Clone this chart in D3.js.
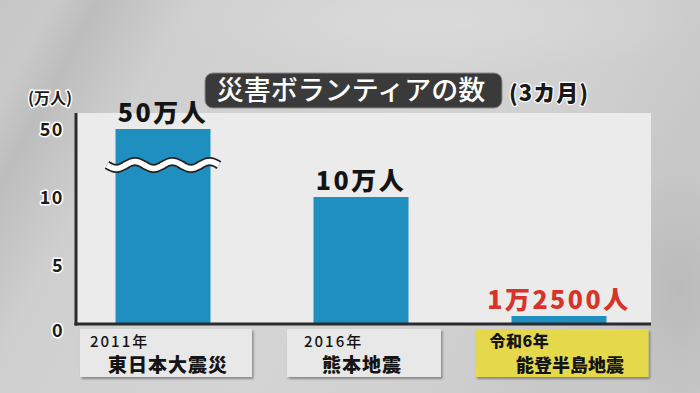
<!DOCTYPE html>
<html><head><meta charset="utf-8">
<script src="https://cdn.jsdelivr.net/npm/d3@7"></script>
<style>
html,body{margin:0;padding:0;background:#cdcdcd;}
svg{display:block;font-family:"Noto Sans CJK JP","Noto Sans",sans-serif;}
</style></head>
<body>
<svg id="chart" width="700" height="393"></svg>
<script>
// ---- data ----
const categories = ["東日本大震災", "熊本地震", "能登半島地震"];
const years = ["2011年", "2016年", "令和6年"];
const values = [50, 10, 1.25];           // 万人
const valueLabels = ["50万人", "10万人", "1万2500人"];
const tickValues = [0, 5, 10, 50];
const title = "災害ボランティアの数";
const subtitle = "(3カ月)";
const unitLabel = "(万人)";

// ---- layout ----
const W = 700, H = 393;
const panel = {x0: 76, x1: 651, y0: 113, y1: 324};
const svg = d3.select("#chart");
const defs = svg.append("defs");

// background
const bg = defs.append("linearGradient").attr("id", "bg").attr("x1", 0).attr("x2", 1).attr("y1", 0).attr("y2", 0.3);
[[0, "#c6c6c6"], [0.07, "#c9c9c9"], [0.13, "#bdbdbd"], [0.25, "#cfcfcf"], [0.6, "#d4d4d4"], [0.85, "#cfcfcf"], [1, "#c7c7c7"]]
  .forEach(([o, c]) => bg.append("stop").attr("offset", o).attr("stop-color", c));
svg.append("rect").attr("width", W).attr("height", H).attr("fill", "url(#bg)");
const rg = defs.append("radialGradient").attr("id", "glow");
rg.append("stop").attr("offset", 0).attr("stop-color", "#dcdcdc").attr("stop-opacity", 0.8);
rg.append("stop").attr("offset", 1).attr("stop-color", "#dcdcdc").attr("stop-opacity", 0);
svg.append("ellipse").attr("cx", 430).attr("cy", 20).attr("rx", 260).attr("ry", 60).attr("fill", "url(#glow)");
const rd = defs.append("radialGradient").attr("id", "dark");
rd.append("stop").attr("offset", 0).attr("stop-color", "#b4b4b4").attr("stop-opacity", 0.7);
rd.append("stop").attr("offset", 1).attr("stop-color", "#b4b4b4").attr("stop-opacity", 0);
svg.append("ellipse").attr("cx", 680).attr("cy", 290).attr("rx", 70).attr("ry", 120).attr("fill", "url(#dark)");

// shadow filter
const f = defs.append("filter").attr("id", "sh").attr("x", "-10%").attr("y", "-10%").attr("width", "130%").attr("height", "140%");
f.append("feDropShadow").attr("dx", 1.5).attr("dy", 2).attr("stdDeviation", 1.2).attr("flood-color", "#000").attr("flood-opacity", 0.35);

// plot panel
svg.append("rect").attr("x", panel.x0).attr("y", panel.y0)
  .attr("width", panel.x1 - panel.x0).attr("height", panel.y1 - panel.y0)
  .attr("fill", "#ebebeb");

// scales
const x = d3.scalePoint().domain(categories).range([64, 658]).padding(0.5);
const y = d3.scaleLinear().domain([0, 10, 50]).range([333, 197, 129]);
const barW = 95;

// bars
svg.append("g").selectAll("rect").data(categories).join("rect")
  .attr("x", d => x(d) - barW / 2)
  .attr("width", barW)
  .attr("y", (d, i) => y(values[i]))
  .attr("height", (d, i) => panel.y1 - y(values[i]))
  .attr("fill", "#1f8fc0");

// wave break on the first bar
const wy = 165, wx0 = x(categories[0]) - 56, wx1 = x(categories[0]) + 56;
const wavePts = d3.range(0, 61).map(k => {
  const t = k / 60;
  return [wx0 + t * (wx1 - wx0), wy + 3.5 * Math.sin(t * Math.PI * 6)];
});
const waveLine = d3.line().curve(d3.curveBasis);
svg.append("path").attr("d", waveLine(wavePts)).attr("fill", "none")
  .attr("stroke", "#222").attr("stroke-width", 9);
svg.append("path").attr("d", waveLine(wavePts)).attr("fill", "none")
  .attr("stroke", "#fff").attr("stroke-width", 5.5);

// axes lines
svg.append("line").attr("x1", panel.x0).attr("x2", panel.x0).attr("y1", panel.y0).attr("y2", panel.y1 + 1.5)
  .attr("stroke", "#2b2b2b").attr("stroke-width", 3);
svg.append("line").attr("x1", panel.x0 - 1.5).attr("x2", panel.x1).attr("y1", panel.y1).attr("y2", panel.y1)
  .attr("stroke", "#2b2b2b").attr("stroke-width", 3);

// y axis tick labels
const yAxis = svg.append("g").attr("transform", "translate(64,0)")
  .call(d3.axisLeft(y).tickValues(tickValues).tickSize(0).tickPadding(0).tickFormat(d3.format("d")));
yAxis.select(".domain").remove();
yAxis.selectAll("text")
  .attr("font-family", "'Noto Sans CJK JP', sans-serif")
  .attr("font-size", 18).attr("font-weight", 700).attr("fill", "#1a1a1a")
  .attr("stroke", "#fff").attr("stroke-width", 3).attr("paint-order", "stroke")
  .attr("stroke-linejoin", "round").attr("letter-spacing", 1.5)
  .attr("dy", "0.36em");
yAxis.selectAll("text").filter(d => d === 0).attr("dy", "0.2em");

// unit label
svg.append("text").attr("x", 50).attr("y", 104).attr("text-anchor", "middle")
  .attr("font-size", 16).attr("font-weight", 700).attr("fill", "#1a1a1a")
  .attr("stroke", "#fff").attr("stroke-width", 3).attr("paint-order", "stroke").attr("stroke-linejoin", "round")
  .text(unitLabel);

// value labels
svg.append("g").selectAll("text").data(categories).join("text")
  .attr("x", d => x(d))
  .attr("y", (d, i) => y(values[i]) - 7)
  .attr("text-anchor", "middle")
  .attr("font-size", 25).attr("font-weight", 900)
  .attr("letter-spacing", 2.5)
  .attr("fill", (d, i) => i === 2 ? "#d8332a" : "#141414")
  .text((d, i) => valueLabels[i]);

// title box
svg.append("rect").attr("x", 205).attr("y", 73).attr("width", 297).attr("height", 35).attr("rx", 8)
  .attr("fill", "#3a3a3a").attr("stroke", "#8a8a8a").attr("stroke-width", 1);
svg.append("text").attr("x", 351).attr("y", 100).attr("text-anchor", "middle")
  .attr("font-size", 27).attr("font-weight", 500).attr("fill", "#fff")
  .text(title);
svg.append("text").attr("x", 509).attr("y", 101)
  .attr("font-size", 22).attr("font-weight", 900).attr("fill", "#1a1a1a")
  .attr("letter-spacing", 1)
  .attr("stroke", "#fff").attr("stroke-width", 2.5).attr("paint-order", "stroke").attr("stroke-linejoin", "round")
  .text(subtitle);

// category boxes
const boxW = [172, 154, 173];
const boxFill = ["#e8e8e8", "#e8e8e8", "#e6d84c"];
const boxes = svg.append("g").selectAll("g").data(categories).join("g")
  .attr("transform", (d, i) => `translate(${x(d) + 3 - boxW[i] / 2},329)`);
boxes.append("rect").attr("width", (d, i) => boxW[i]).attr("height", 48)
  .attr("fill", (d, i) => boxFill[i]).attr("filter", "url(#sh)");
boxes.append("text").attr("x", (d, i) => i === 1 ? 17 : (i === 2 ? 14 : 10)).attr("y", 18)
  .attr("font-size", (d, i) => i === 2 ? 16 : 15)
  .attr("font-weight", (d, i) => i === 2 ? 900 : 500)
  .attr("letter-spacing", (d, i) => i === 2 ? 0.5 : 2)
  .attr("fill", "#141414")
  .text((d, i) => years[i]);
boxes.append("text")
  .attr("x", (d, i) => boxW[i] / 2 + (i === 0 ? 2 : (i === 1 ? -2 : 8)))
  .attr("y", 43).attr("text-anchor", "middle")
  .attr("font-size", (d, i) => i === 2 ? 18 : 19).attr("font-weight", 900)
  .attr("letter-spacing", (d, i) => i === 2 ? 0 : 1)
  .attr("fill", "#141414")
  .text(d => d);
</script>
</body></html>
